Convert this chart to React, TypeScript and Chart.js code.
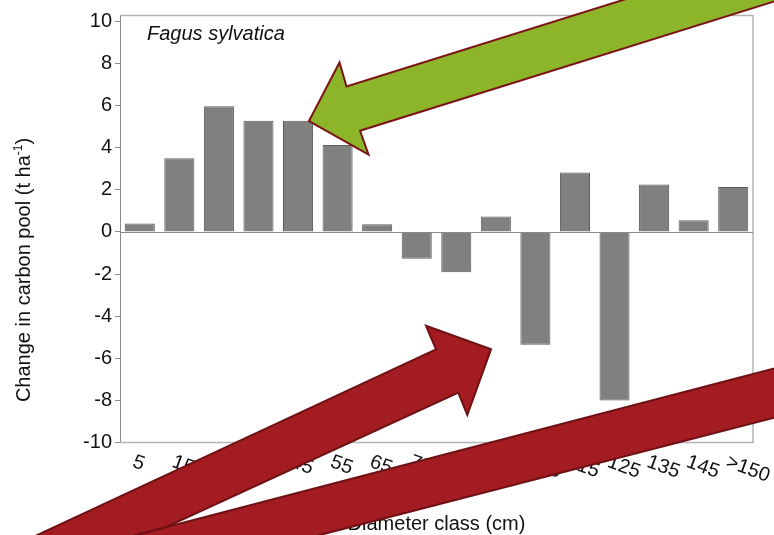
import React, { useEffect, useRef } from "react";
import { Chart, registerables } from "chart.js";

Chart.register(...registerables);

const categories = ["5", "15", "25", "35", "45", "55", "65", "75", "85", "95", "105", "115", "125", "135", "145", ">150"];
const carbonChange = [0.4, 3.5, 5.97, 5.28, 5.28, 4.13, 0.36, -1.28, -1.92, 0.73, -5.36, 2.82, -8.0, 2.25, 0.55, 2.13];
const yTicks = [-10, -8, -6, -4, -2, 0, 2, 4, 6, 8, 10];
const speciesLabel = "Fagus sylvatica";
const xTitle = "Diameter class (cm)";
const yTitleMain = "Change in carbon pool (t ha";
const yTitleSup = "-1";
const yTitleEnd = ")";

const FONT = "'Liberation Sans', Arial, Helvetica, sans-serif";

type Pt = [number, number];
const greenArrow: Pt[] = [
  [309, 121], [339.5, 62.5], [346.5, 86.5], [1000, -118], [1000, -69], [360, 130.7], [368.5, 154.5],
];
const redArrow1: Pt[] = [
  [491, 349.3], [426, 325.7], [436, 349.3], [-100, 599], [-100, 649.5], [458.3, 392.7], [467.3, 415],
];
const redArrow2: Pt[] = [
  [-100, 596.6], [900, 335.6], [900, 385.1], [-100, 643.5],
];

function drawPoly(ctx: CanvasRenderingContext2D, pts: Pt[], fill: string, stroke: string) {
  ctx.beginPath();
  pts.forEach((p, i) => (i === 0 ? ctx.moveTo(p[0], p[1]) : ctx.lineTo(p[0], p[1])));
  ctx.closePath();
  ctx.fillStyle = fill;
  ctx.fill();
  ctx.lineWidth = 2;
  ctx.lineJoin = "miter";
  ctx.strokeStyle = stroke;
  ctx.stroke();
}

const decorPlugin = {
  id: "decor",
  afterDraw(chart: any) {
    const ctx: CanvasRenderingContext2D = chart.ctx;
    const area = chart.chartArea;
    const xs = chart.scales.x;
    const ys = chart.scales.y;
    ctx.save();
    // frame (top, right, bottom)
    ctx.strokeStyle = "#b4b4b4";
    ctx.lineWidth = 1.5;
    ctx.beginPath();
    ctx.moveTo(area.left, area.top + 0.5);
    ctx.lineTo(area.right, area.top + 0.5);
    ctx.lineTo(area.right, area.bottom);
    ctx.lineTo(area.left, area.bottom);
    ctx.stroke();
    // zero line
    const y0 = Math.round(ys.getPixelForValue(0)) + 0.5;
    ctx.strokeStyle = "#8a8a8a";
    ctx.lineWidth = 1;
    ctx.beginPath();
    ctx.moveTo(area.left, y0);
    ctx.lineTo(area.right, y0);
    ctx.stroke();
    // species label
    ctx.fillStyle = "#111";
    ctx.font = `italic 20px ${FONT}`;
    ctx.textAlign = "left";
    ctx.textBaseline = "alphabetic";
    ctx.fillText(speciesLabel, area.left + 27, area.top + 25);
    // x tick labels rotated
    ctx.font = `20px ${FONT}`;
    ctx.textBaseline = "top";
    categories.forEach((c, i) => {
      const x = xs.getPixelForTick(i);
      ctx.save();
      ctx.translate(x - 3, area.bottom + 9.5);
      ctx.rotate((20 * Math.PI) / 180);
      ctx.fillText(c, 0, 0);
      ctx.restore();
    });
    // x title
    ctx.textAlign = "center";
    ctx.textBaseline = "alphabetic";
    ctx.fillText(xTitle, (area.left + area.right) / 2, 530);
    // y title with superscript
    ctx.save();
    ctx.translate(30, 270);
    ctx.rotate(-Math.PI / 2);
    ctx.font = `20px ${FONT}`;
    const w1 = ctx.measureText(yTitleMain).width;
    const w3 = ctx.measureText(yTitleEnd).width;
    ctx.font = `12px ${FONT}`;
    const w2 = ctx.measureText(yTitleSup).width;
    const total = w1 + w2 + w3;
    let px = -total / 2;
    ctx.textAlign = "left";
    ctx.font = `20px ${FONT}`;
    ctx.fillText(yTitleMain, px, 0);
    px += w1;
    ctx.font = `12px ${FONT}`;
    ctx.fillText(yTitleSup, px, -8);
    px += w2;
    ctx.font = `20px ${FONT}`;
    ctx.fillText(yTitleEnd, px, 0);
    ctx.restore();
    // overlay arrows
    drawPoly(ctx, greenArrow, "#8db52a", "#7a1416");
    drawPoly(ctx, redArrow1, "#a31c22", "#6e1013");
    drawPoly(ctx, redArrow2, "#a31c22", "#6e1013");
    ctx.restore();
  },
};

export default function App() {
  const ref = useRef<HTMLCanvasElement | null>(null);
  useEffect(() => {
    if (!ref.current) return;
    const chart = new Chart(ref.current, {
      type: "bar",
      data: {
        labels: categories,
        datasets: [
          {
            data: carbonChange,
            backgroundColor: "#808080",
            borderColor: "#5c5c5c",
            borderWidth: 1,
            barPercentage: 0.76,
            categoryPercentage: 1,
          },
        ],
      },
      options: {
        animation: false,
        responsive: false,
        maintainAspectRatio: false,
        devicePixelRatio: 1,
        layout: { padding: { top: 15, right: 21, left: 0, bottom: 0 } },
        plugins: { legend: { display: false }, tooltip: { enabled: false }, title: { display: false } },
        scales: {
          x: {
            ticks: { display: false },
            grid: { display: false },
            border: { display: false },
            afterFit: (s: any) => {
              s.height = 92.5;
            },
          },
          y: {
            min: -10,
            max: 10.3,
            afterBuildTicks: (s: any) => {
              s.ticks = yTicks.map((v) => ({ value: v }));
            },
            ticks: {
              color: "#111",
              padding: 3,
              font: { family: FONT, size: 20 },
            },
            grid: { drawOnChartArea: false, drawTicks: true, tickLength: 5, color: "#8a8a8a" },
            border: { display: true, color: "#8a8a8a", width: 1 },
            afterFit: (s: any) => {
              s.width = 120;
            },
          },
        },
      },
      plugins: [decorPlugin],
    });
    return () => chart.destroy();
  }, []);
  return (
    <div style={{ position: "absolute", left: 0, top: 0, width: 774, height: 535, background: "#fff" }}>
      <canvas ref={ref} width={774} height={535} />
    </div>
  );
}
